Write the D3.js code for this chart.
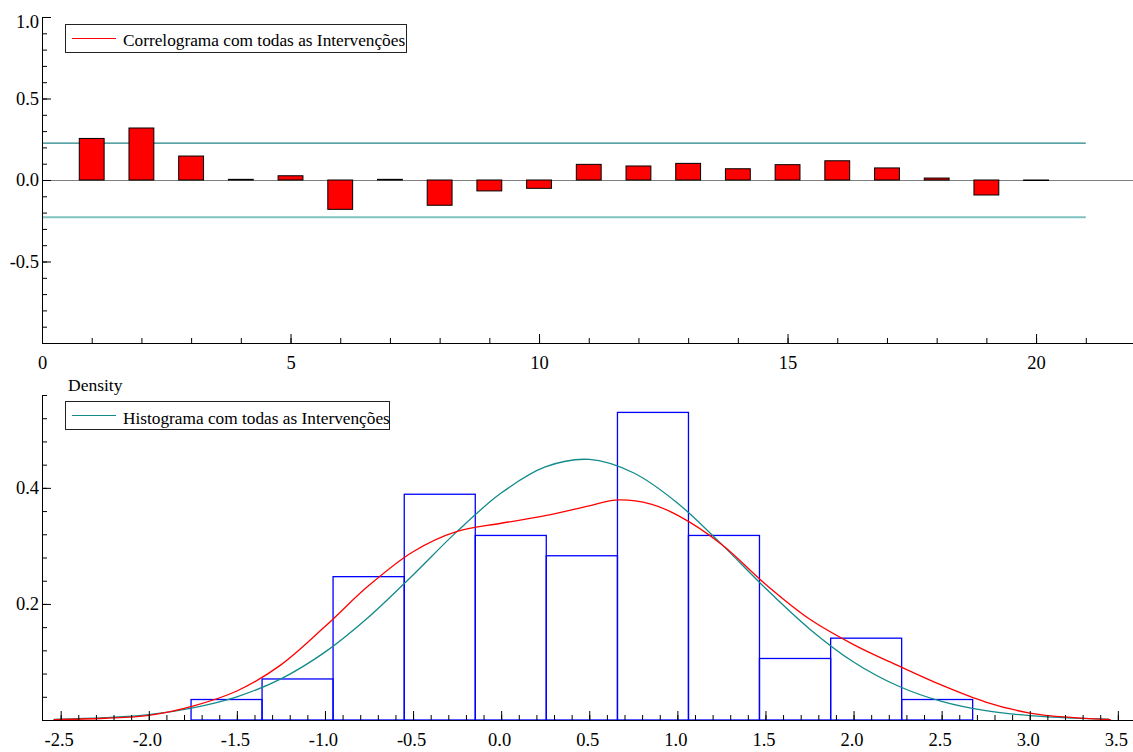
<!DOCTYPE html>
<html><head><meta charset="utf-8">
<script src="https://cdn.jsdelivr.net/npm/d3@7"></script>
<style>
body{margin:0;background:#fff}
svg{display:block}
text{font-family:"Liberation Serif","Times New Roman",serif;fill:#000}
</style>
</head><body>
<svg id="c" width="1133" height="752"></svg>
<script>
// ---------- DATA ----------
const acfLags = [1,2,3,4,5,6,7,8,9,10,11,12,13,14,15,16,17,18,19,20];
const acfValues = [0.255,0.319,0.147,0.004,0.026,-0.180,0.004,-0.155,-0.067,-0.051,0.096,0.086,0.102,0.069,0.094,0.118,0.074,0.012,-0.092,-0.002];
const confBounds = [0.226,-0.229];
const confEndLag = 21;
const acfXMajor = [0,5,10,15,20];
const acfXMinor = [0,1,2,3,4,5,6,7,8,9,10,11,12,13,14,15,16,17,18,19,20,21];
const acfYMajor = [1.0,0.5,0.0,-0.5,-1.0];
const acfYLabels = ["1.0","0.5","0.0","-0.5",""];
const acfYMinor = [-1.0,-0.9,-0.8,-0.7,-0.6,-0.5,-0.4,-0.3,-0.2,-0.1,0,0.1,0.2,0.3,0.4,0.5,0.6,0.7,0.8,0.9,1.0];
const acfLegend = "Correlograma com todas as Intervenções";

const binEdges = [-1.760,-1.357,-0.954,-0.550,-0.147,0.256,0.660,1.063,1.466,1.870,2.273,2.676];
const binDensity = [0.0353,0.0707,0.247,0.389,0.318,0.283,0.530,0.318,0.106,0.141,0.0353];
const normalX = [-2.54,-2.25,-2.0,-1.75,-1.5,-1.25,-1.0,-0.75,-0.5,-0.25,0.0,0.25,0.5,0.75,1.0,1.25,1.5,1.75,2.0,2.25,2.5,2.75,3.0,3.25,3.45];
const normalY = [0.0012,0.0041,0.0092,0.021,0.040,0.071,0.117,0.178,0.250,0.325,0.391,0.436,0.449,0.426,0.374,0.303,0.227,0.157,0.100,0.059,0.032,0.016,0.0075,0.0033,0.0015];
const kdeX = [-2.54,-2.25,-2.0,-1.75,-1.5,-1.25,-1.0,-0.75,-0.5,-0.25,0.0,0.25,0.5,0.65,0.85,1.0,1.25,1.5,1.75,2.0,2.25,2.5,2.75,3.0,3.25,3.46];
const kdeY = [0.0005,0.003,0.008,0.024,0.050,0.095,0.161,0.232,0.290,0.325,0.339,0.352,0.369,0.379,0.372,0.353,0.303,0.234,0.174,0.130,0.094,0.060,0.031,0.012,0.004,0.0005];
const histXMajor = [-2.5,-2.0,-1.5,-1.0,-0.5,0.0,0.5,1.0,1.5,2.0,2.5,3.0,3.5];
const histXLabels = ["-2.5","-2.0","-1.5","-1.0","-0.5","0.0","0.5","1.0","1.5","2.0","2.5","3.0","3.5"];
const histYMajor = [0.2,0.4];
const histYLabels = ["0.2","0.4"];
const histYMinorStep = 0.04;
const histLegend = "Histograma com todas as Intervenções";
const histYTitle = "Density";

// ---------- DRAW ----------
const svg = d3.select("#c");
const FONT = '"Liberation Serif","Times New Roman",serif';
const FS = 18.5;

function styleAxis(g){
  g.attr("font-family",null).attr("font-size",null);
  g.selectAll("path.domain").attr("stroke","#000").attr("stroke-width",1);
  g.selectAll(".tick line").attr("stroke","#000");
  g.selectAll("text").style("font-family",FONT).style("font-size",FS+"px").attr("fill","#000");
}

// ===== TOP PANEL =====
const xT = d3.scaleLinear().domain([0,21.95]).range([42,1133]);
const yT = d3.scaleLinear().domain([-1,1]).range([343,17]);
const gTop = svg.append("g");

gTop.append("line").attr("x1",xT(0)).attr("x2",xT(confEndLag))
  .attr("y1",yT(confBounds[0])).attr("y2",yT(confBounds[0]))
  .attr("stroke","#1f8585").attr("stroke-width",1.2);
gTop.append("line").attr("x1",xT(0)).attr("x2",xT(confEndLag))
  .attr("y1",yT(confBounds[1])).attr("y2",yT(confBounds[1]))
  .attr("stroke","#80c2c2").attr("stroke-width",2);
gTop.append("line").attr("x1",xT(0)).attr("x2",1133)
  .attr("y1",yT(0)+0.5).attr("y2",yT(0)+0.5)
  .attr("stroke","#808080").attr("stroke-width",1);
const bw = xT(0.5)-xT(0);
gTop.selectAll("rect.bar").data(acfLags.map((l,i)=>({l,v:acfValues[i]}))).join("rect")
  .attr("class","bar")
  .attr("x",d=>xT(d.l)-bw/2)
  .attr("y",d=>yT(Math.max(d.v,0)))
  .attr("width",bw)
  .attr("height",d=>Math.max(Math.abs(yT(d.v)-yT(0)),0.5))
  .attr("fill","#ff0000").attr("stroke","#000").attr("stroke-width",1);

const gxT = gTop.append("g").attr("transform","translate(0,343)")
  .call(d3.axisBottom(xT).tickValues(acfXMinor).tickSizeInner(-5).tickSizeOuter(0).tickFormat(""));
styleAxis(gxT);
const gxT2 = gTop.append("g").attr("transform","translate(0,343)")
  .call(d3.axisBottom(xT).tickValues(acfXMajor).tickSizeInner(-9).tickSizeOuter(0).tickPadding(13).tickFormat(d3.format("d")));
gxT2.select("path.domain").remove();
styleAxis(gxT2);
const gyT = gTop.append("g").attr("transform","translate(42,0)")
  .call(d3.axisLeft(yT).tickValues(acfYMinor).tickSizeInner(-5).tickSizeOuter(0).tickFormat(""));
styleAxis(gyT);
const gyT2 = gTop.append("g").attr("transform","translate(42,0)")
  .call(d3.axisLeft(yT).tickValues(acfYMajor).tickSizeInner(-9).tickSizeOuter(0).tickPadding(3).tickFormat((d,i)=>acfYLabels[i]));
gyT2.select("path.domain").remove();
styleAxis(gyT2);
gyT2.selectAll(".tick text").filter(d=>d===1.0).attr("dy","0.55em");

const lg1 = gTop.append("g");
lg1.append("rect").attr("x",65.5).attr("y",24.5).attr("width",341).attr("height",28)
  .attr("fill","#fff").attr("stroke","#222").attr("stroke-width",1);
lg1.append("line").attr("x1",72).attr("x2",116).attr("y1",38.5).attr("y2",38.5)
  .attr("stroke","#ff0000").attr("stroke-width",1.2);
lg1.append("text").attr("x",123).attr("y",46).style("font-size","17.3px").text(acfLegend);

// ===== BOTTOM PANEL =====
const xB = d3.scaleLinear().domain([-2.606,3.586]).range([42,1133]);
const yB = d3.scaleLinear().domain([0,0.56]).range([720,395]);
const gBot = svg.append("g");

gBot.selectAll("rect.bin").data(binDensity.map((d,i)=>({x0:binEdges[i],x1:binEdges[i+1],d}))).join("rect")
  .attr("class","bin")
  .attr("x",d=>xB(d.x0)).attr("width",d=>xB(d.x1)-xB(d.x0))
  .attr("y",d=>yB(d.d)).attr("height",d=>yB(0)-yB(d.d))
  .attr("fill","none").attr("stroke","#0000ff").attr("stroke-width",1.3);

const line = d3.line().curve(d3.curveCatmullRom.alpha(0.5));
gBot.append("path")
  .attr("d",line(normalX.map((x,i)=>[xB(x),yB(normalY[i])])))
  .attr("fill","none").attr("stroke","#128a8a").attr("stroke-width",1.3);
gBot.append("path")
  .attr("d",line(kdeX.map((x,i)=>[xB(x),yB(kdeY[i])])))
  .attr("fill","none").attr("stroke","#ff0000").attr("stroke-width",1.3);

const minorX = d3.range(-25,36).map(v=>v/10);
const gxB = gBot.append("g").attr("transform","translate(0,720)")
  .call(d3.axisBottom(xB).tickValues(minorX).tickSizeInner(-5).tickSizeOuter(0).tickFormat(""));
styleAxis(gxB);
const gxB2 = gBot.append("g").attr("transform","translate(0,720)")
  .call(d3.axisBottom(xB).tickValues(histXMajor).tickSizeInner(-9).tickSizeOuter(0).tickPadding(13).tickFormat((d,i)=>histXLabels[i]));
gxB2.select("path.domain").remove();
styleAxis(gxB2);
gxB2.selectAll(".tick text").attr("dx",-2);
const minorY = d3.range(0,15).map(v=>v*histYMinorStep);
const gyB = gBot.append("g").attr("transform","translate(42,0)")
  .call(d3.axisLeft(yB).tickValues(minorY).tickSizeInner(-5).tickSizeOuter(0).tickFormat(""));
styleAxis(gyB);
const gyB2 = gBot.append("g").attr("transform","translate(42,0)")
  .call(d3.axisLeft(yB).tickValues(histYMajor).tickSizeInner(-9).tickSizeOuter(0).tickPadding(3).tickFormat((d,i)=>histYLabels[i]));
gyB2.select("path.domain").remove();
styleAxis(gyB2);

gBot.append("text").attr("x",68).attr("y",391).style("font-size","17.5px").text(histYTitle);
const lg2 = gBot.append("g");
lg2.append("rect").attr("x",65.5).attr("y",401.5).attr("width",324).attr("height",28)
  .attr("fill","#fff").attr("stroke","#222").attr("stroke-width",1);
lg2.append("line").attr("x1",72).attr("x2",116).attr("y1",415.5).attr("y2",415.5)
  .attr("stroke","#128a8a").attr("stroke-width",1.2);
lg2.append("text").attr("x",123).attr("y",423.5).style("font-size","17.3px").text(histLegend);
</script>
</body></html>
